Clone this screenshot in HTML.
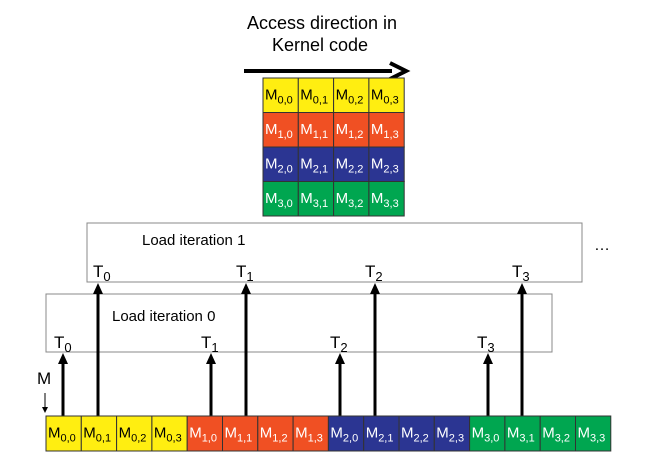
<!DOCTYPE html>
<html><head><meta charset="utf-8"><style>
html,body{margin:0;padding:0;background:#fff;}
svg{display:block;font-family:"Liberation Sans",Arial,sans-serif;}
</style></head><body>
<svg width="653" height="460" viewBox="0 0 653 460" xmlns="http://www.w3.org/2000/svg">
<defs>
<marker id="ah" markerWidth="8" markerHeight="8" refX="4" refY="4" orient="auto" markerUnits="userSpaceOnUse"><path d="M0,0 L8,4 L0,8 z" fill="#000"/></marker>
</defs>
<text x="322" y="29" font-size="18" text-anchor="middle">Access direction in</text>
<text x="320" y="51" font-size="18" text-anchor="middle">Kernel code</text>
<line x1="244" y1="71" x2="392" y2="71" stroke="#000" stroke-width="4"/>
<path d="M390,63 L406,71 L390,79" fill="none" stroke="#000" stroke-width="4"/>
<g id="mat"></g>
<rect x="87" y="223" width="495" height="59" fill="#fff" stroke="#888" stroke-width="1"/>
<text x="142" y="245" font-size="15">Load iteration 1</text>
<text x="594" y="250" font-size="16">…</text>
<rect x="46" y="294" width="506" height="58" fill="#fff" stroke="#888" stroke-width="1"/>
<text x="112" y="321" font-size="15">Load iteration 0</text>
<g font-size="17">
<text x="93" y="277">T<tspan font-size="13" dy="4">0</tspan></text>
<text x="236" y="277">T<tspan font-size="13" dy="4">1</tspan></text>
<text x="365" y="277">T<tspan font-size="13" dy="4">2</tspan></text>
<text x="512" y="277">T<tspan font-size="13" dy="4">3</tspan></text>
<text x="54" y="348">T<tspan font-size="13" dy="4">0</tspan></text>
<text x="201" y="348">T<tspan font-size="13" dy="4">1</tspan></text>
<text x="330" y="348">T<tspan font-size="13" dy="4">2</tspan></text>
<text x="477" y="348">T<tspan font-size="13" dy="4">3</tspan></text>
</g>
<g stroke="#000" stroke-width="3">
<line x1="63" y1="416" x2="63" y2="362"/>
<line x1="211" y1="416" x2="211" y2="362"/>
<line x1="340" y1="416" x2="340" y2="362"/>
<line x1="488" y1="416" x2="488" y2="362"/>
<line x1="98" y1="416" x2="98" y2="292"/>
<line x1="246" y1="416" x2="246" y2="292"/>
<line x1="375" y1="416" x2="375" y2="292"/>
<line x1="522" y1="416" x2="522" y2="292"/>
</g>
<g fill="#000">
<path d="M58,364 L63,353 L68,364 z"/><path d="M206,364 L211,353 L216,364 z"/>
<path d="M335,364 L340,353 L345,364 z"/><path d="M483,364 L488,353 L493,364 z"/>
<path d="M93,294 L98,283 L103,294 z"/><path d="M241,294 L246,283 L251,294 z"/>
<path d="M370,294 L375,283 L380,294 z"/><path d="M517,294 L522,283 L527,294 z"/>
</g>
<text x="37" y="384" font-size="17">M</text>
<line x1="45" y1="393" x2="45" y2="408" stroke="#000" stroke-width="1"/>
<path d="M42,407 L45,413 L48,407 z" fill="#000"/>
<g id="row"></g>
<script>
var cols=["#ffee11","#f05023","#2b3592","#00a650"];
var tc=["#000","#fff","#fff","#fff"];
var ns="http://www.w3.org/2000/svg";
function cell(g,x,y,w,h,i,j){
 var r=document.createElementNS(ns,"rect");
 r.setAttribute("x",x);r.setAttribute("y",y);r.setAttribute("width",w);r.setAttribute("height",h);
 r.setAttribute("fill",cols[i]);r.setAttribute("stroke","#333");r.setAttribute("stroke-width","1");
 g.appendChild(r);
 var t=document.createElementNS(ns,"text");
 t.setAttribute("x",x+2);t.setAttribute("y",y+h/2+4);t.setAttribute("font-size","15");t.setAttribute("fill",tc[i]);
 t.textContent="M";
 var s=document.createElementNS(ns,"tspan");s.setAttribute("font-size","11");s.setAttribute("dy","4");
 s.textContent=i+","+j;t.appendChild(s);g.appendChild(t);
}
var m=document.getElementById("mat");
for(var i=0;i<4;i++)for(var j=0;j<4;j++)cell(m,263+j*35.3,78+i*34.5,35.3,34.5,i,j);
var rw=document.getElementById("row");
for(var k=0;k<16;k++)cell(rw,46+k*35.3,416,35.3,35,Math.floor(k/4),k%4);
</script>
</svg>
</body></html>
